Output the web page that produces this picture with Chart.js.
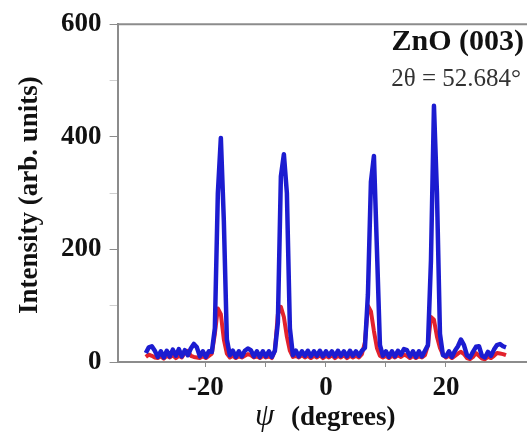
<!DOCTYPE html>
<html>
<head>
<meta charset="utf-8">
<script src="https://cdn.jsdelivr.net/npm/chart.js@4.4.1/dist/chart.umd.min.js"></script>
<style>
    html, body { margin: 0; padding: 0; background: #fff; }
</style>
</head>
<body>
<canvas id="chart" width="527" height="434"></canvas>
<script>
// psi angle (degrees)
const psi = [
    -30, -29.5, -29, -28.5, -28, -27.5, -27, -26.5, -26, -25.5,
    -25, -24.5, -24, -23.5, -23, -22.5, -22, -21.5, -21, -20.5,
    -20, -19.5, -19, -18.5, -18, -17.5, -17, -16.5, -16, -15.5,
    -15, -14.5, -14, -13.5, -13, -12.5, -12, -11.5, -11, -10.5,
    -10, -9.5, -9, -8.5, -8, -7.5, -7, -6.5, -6, -5.5,
    -5, -4.5, -4, -3.5, -3, -2.5, -2, -1.5, -1, -0.5,
    0, 0.5, 1, 1.5, 2, 2.5, 3, 3.5, 4, 4.5,
    5, 5.5, 6, 6.5, 7, 7.5, 8, 8.5, 9, 9.5,
    10, 10.5, 11, 11.5, 12, 12.5, 13, 13.5, 14, 14.5,
    15, 15.5, 16, 16.5, 17, 17.5, 18, 18.5, 19, 19.5,
    20, 20.5, 21, 21.5, 22, 22.5, 23, 23.5, 24, 24.5,
    25, 25.5, 26, 26.5, 27, 27.5, 28, 28.5, 29, 29.5,
    30
];

// blue scan
const blueScan = [
    16, 26, 28, 20, 9, 19, 8, 20, 10, 22,
    11, 23, 10, 21, 12, 24, 32, 26, 10, 19,
    9, 19, 18, 60, 300, 398, 250, 40, 12, 20,
    9, 19, 10, 20, 24, 21, 10, 19, 9, 19,
    10, 19, 9, 20, 70, 330, 369, 300, 60, 12,
    20, 10, 19, 11, 20, 10, 19, 11, 20, 10,
    19, 11, 19, 10, 20, 11, 19, 10, 20, 11,
    19, 11, 20, 25, 120, 320, 366, 200, 30, 11,
    19, 9, 19, 10, 20, 13, 23, 21, 10, 19,
    9, 19, 10, 20, 30, 180, 455, 300, 50, 12,
    10, 19, 9, 20, 28, 40, 30, 12, 8, 18,
    27, 28, 11, 8, 18, 11, 22, 30, 32, 28,
    26
];

// red scan
const redScan = [
    9, 13, 11, 8, 7, 10, 6, 11, 8, 12,
    7, 11, 8, 16, 20, 11, 9, 8, 7, 10,
    7, 11, 15, 50, 95, 85, 40, 15, 8, 11,
    7, 10, 8, 11, 14, 12, 8, 10, 7, 11,
    8, 10, 7, 20, 85, 98, 80, 45, 20, 9,
    11, 8, 12, 8, 11, 7, 11, 8, 12, 7,
    11, 8, 12, 7, 11, 8, 12, 7, 11, 8,
    11, 8, 14, 35, 100, 90, 55, 25, 11, 8,
    11, 7, 11, 8, 12, 9, 13, 11, 7, 11,
    7, 10, 8, 12, 30, 80, 75, 45, 25, 13,
    8, 11, 7, 11, 15, 18, 14, 7, 5, 9,
    16, 11, 6, 5, 9, 7, 11, 16, 15, 14,
    12
];

const yTickLabels = [0, 200, 400, 600];
const xTickLabels = [-20, 0, 20];

const serif = "'Liberation Serif', 'DejaVu Serif', serif";
const axisGray = '#8c8c8c';

const textPlugin = {
    id: 'texts',
    afterDraw(chart) {
        const { ctx, chartArea } = chart;
        ctx.save();
        // top frame line
        ctx.strokeStyle = axisGray;
        ctx.lineWidth = 2;
        ctx.beginPath();
        ctx.moveTo(chartArea.left, chartArea.top);
        ctx.lineTo(chartArea.right, chartArea.top);
        ctx.stroke();

        ctx.fillStyle = '#111';
        // y title
        ctx.save();
        ctx.translate(chartArea.left - 88, (chartArea.top + chartArea.bottom) / 2 + 2);
        ctx.rotate(-Math.PI / 2);
        ctx.font = 'bold 27px ' + serif;
        ctx.textAlign = 'center';
        ctx.textBaseline = 'middle';
        ctx.fillText('Intensity (arb. units)', 0, 0);
        ctx.restore();

        // x title
        ctx.textBaseline = 'alphabetic';
        ctx.textAlign = 'left';
        ctx.font = 'italic 31px ' + serif;
        ctx.fillText('\u03c8', 255, 425);
        ctx.font = 'bold 27px ' + serif;
        ctx.fillText('(degrees)', 291, 425);

        // annotation
        ctx.textAlign = 'right';
        ctx.font = 'bold 30px ' + serif;
        ctx.fillText('ZnO (003)', 524, 50);
        ctx.fillStyle = '#333';
        ctx.font = '25px ' + serif;
        ctx.fillText('2\u03b8 = 52.684\u00b0', 521, 86);
        ctx.restore();
    }
};

new Chart(document.getElementById('chart'), {
    type: 'line',
    data: {
        datasets: [
            {
                label: 'blue',
                data: psi.map((x, i) => ({ x: x, y: blueScan[i] })),
                borderColor: '#1c1cd0',
                borderWidth: 4.5,
                borderJoinStyle: 'round',
                pointRadius: 0,
                tension: 0,
                order: 0
            },
            {
                label: 'red',
                data: psi.map((x, i) => ({ x: x, y: redScan[i] })),
                borderColor: '#e2222c',
                borderWidth: 4,
                borderJoinStyle: 'round',
                pointRadius: 0,
                tension: 0,
                order: 1
            }
        ]
    },
    options: {
        responsive: false,
        animation: false,
        devicePixelRatio: 1,
        layout: { padding: { top: 19.5, right: 0, left: 0, bottom: 0 } },
        plugins: { legend: { display: false }, tooltip: { enabled: false } },
        scales: {
            x: {
                type: 'linear',
                min: -34.7,
                max: 33.5,
                afterFit: s => { s.height = 72; },
                afterBuildTicks: s => { s.ticks = s.ticks.filter(t => t.value % 10 === 0); },
                grid: { drawOnChartArea: false, tickLength: 5, color: axisGray },
                border: { color: axisGray, width: 2 },
                ticks: {
                    stepSize: 10,
                    maxRotation: 0,
                    autoSkip: false,
                    padding: 5,
                    color: '#111',
                    font: { family: serif, size: 27, weight: 'bold' },
                    callback: v => xTickLabels.includes(v) ? String(v) : ''
                }
            },
            y: {
                min: 0,
                max: 600,
                afterFit: s => { s.width = 117.6; },
                grid: {
                    drawOnChartArea: false,
                    tickLength: 8,
                    color: ctx => yTickLabels.includes(ctx.tick && ctx.tick.value) ? axisGray : '#cfcfcf'
                },
                border: { color: axisGray, width: 2 },
                ticks: {
                    stepSize: 100,
                    padding: 8,
                    color: '#111',
                    font: { family: serif, size: 27, weight: 'bold' },
                    callback: v => yTickLabels.includes(v) ? String(v) : ''
                }
            }
        }
    },
    plugins: [textPlugin]
});
</script>
</body>
</html>
